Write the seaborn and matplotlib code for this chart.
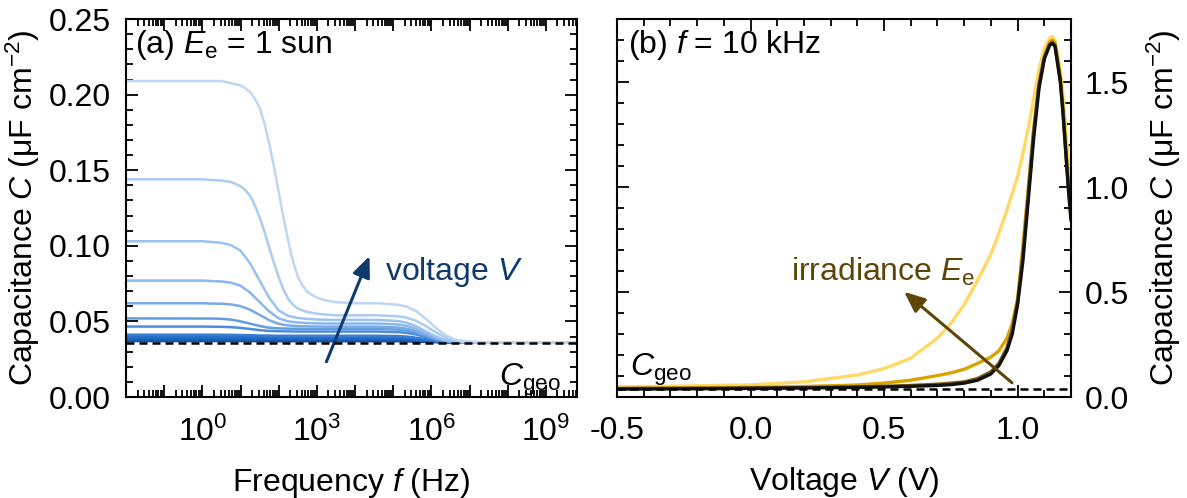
import pandas as pd
import seaborn as sns
import matplotlib.pyplot as plt
from matplotlib.ticker import MultipleLocator, LogLocator, FuncFormatter, NullFormatter
import numpy as np

# (a) capacitance vs frequency at 1 sun, one curve per voltage (light = high V)
log_f = [-2.0, 0.0, 0.25, 0.5, 0.75, 1.0, 1.25, 1.5, 1.75, 2.0, 2.25, 2.5, 2.75, 3.0,
         3.25, 3.5, 4.0, 4.6, 5.1, 5.35, 5.6, 5.85, 6.1, 6.35, 6.6, 6.85, 7.1, 7.6, 9.82]
# the two top curves were read on a finer frequency grid
log_f_fine = [-2.0, 0.0, 0.5, 0.75, 1.0, 1.125, 1.25, 1.375, 1.5, 1.625, 1.75, 1.875, 2.0, 2.125,
              2.25, 2.375, 2.5, 2.625, 2.75, 3.0, 3.25, 3.5, 4.0, 4.6, 5.1, 5.35, 5.6, 5.85, 6.1,
              6.35, 6.6, 6.85, 7.1, 7.6, 9.82]

c_v1 = [0.209, 0.209, 0.209, 0.2075, 0.2061, 0.2042, 0.2017, 0.1972, 0.1914, 0.1811, 0.1678, 0.1524,
        0.1355, 0.1186, 0.1032, 0.0899, 0.0796, 0.0738, 0.0694, 0.0657, 0.0638, 0.0627, 0.062, 0.062,
        0.0611, 0.0598, 0.0568, 0.0519, 0.0461, 0.0412, 0.0382, 0.0370, 0.0365, 0.0361, 0.036]
c_v2 = [0.144, 0.144, 0.1431, 0.1422, 0.1395, 0.1368, 0.1332, 0.1269, 0.1188, 0.1094, 0.099, 0.0887,
        0.0792, 0.0711, 0.0648, 0.0612, 0.0585, 0.0573, 0.0563, 0.0551, 0.0545, 0.054, 0.054, 0.054,
        0.0534, 0.0525, 0.0504, 0.047, 0.043, 0.0396, 0.0375, 0.0367, 0.0363, 0.0361, 0.036]
c_v3 = [0.103, 0.103, 0.1025, 0.102, 0.1004, 0.0968, 0.0884, 0.077, 0.0656, 0.0572, 0.0536, 0.0523,
        0.0516, 0.0513, 0.051, 0.051, 0.051, 0.051, 0.0503, 0.0492, 0.0468, 0.0435, 0.0402, 0.0378,
        0.0368, 0.0364, 0.0362, 0.036, 0.036]
c_v4 = [0.077, 0.077, 0.0767, 0.0764, 0.0756, 0.0736, 0.069, 0.0628, 0.0566, 0.052, 0.05, 0.0493,
        0.0489, 0.0487, 0.0486, 0.0486, 0.0486, 0.0486, 0.048, 0.0471, 0.0451, 0.0423, 0.0395, 0.0375,
        0.0366, 0.0363, 0.0362, 0.036, 0.036]
c_v5 = [0.062, 0.062, 0.0618, 0.0617, 0.0612, 0.0601, 0.0577, 0.0543, 0.0508, 0.0484, 0.0473, 0.0469,
        0.0467, 0.0466, 0.0465, 0.0465, 0.0465, 0.0465, 0.046, 0.0452, 0.0436, 0.0413, 0.0389, 0.0373,
        0.0365, 0.0363, 0.0361, 0.036, 0.036]
c_v6 = [0.052, 0.0519, 0.0519, 0.0517, 0.0512, 0.05, 0.0485, 0.047, 0.0458, 0.0454, 0.0452, 0.0451,
        0.045, 0.045, 0.045, 0.045, 0.045, 0.045, 0.0446, 0.0439, 0.0425, 0.0405, 0.0385, 0.0371,
        0.0365, 0.0362, 0.0361, 0.036, 0.036]
c_v7 = [0.0466, 0.0466, 0.0465, 0.0464, 0.0462, 0.0457, 0.045, 0.0442, 0.0437, 0.0435, 0.0434, 0.0433,
        0.0433, 0.0433, 0.0433, 0.0433, 0.0433, 0.0433, 0.0429, 0.0424, 0.0413, 0.0397, 0.038, 0.0369,
        0.0364, 0.0362, 0.0361, 0.036, 0.036]
c_v8 = [0.0412, 0.0412, 0.0412, 0.0412, 0.0411, 0.041, 0.0409, 0.0407, 0.0406, 0.0405, 0.0405, 0.0405,
        0.0405, 0.0405, 0.0405, 0.0405, 0.0405, 0.0405, 0.0403, 0.04, 0.0392, 0.0383, 0.0373, 0.0365,
        0.0362, 0.0361, 0.036, 0.036, 0.036]
c_v9 = [0.0398, 0.0398, 0.0398, 0.0398, 0.0398, 0.0397, 0.0397, 0.0396, 0.0395, 0.0395, 0.0395, 0.0395,
        0.0395, 0.0395, 0.0395, 0.0395, 0.0395, 0.0395, 0.0393, 0.0391, 0.0385, 0.0378, 0.037, 0.0364,
        0.0362, 0.0361, 0.036, 0.036, 0.036]
c_v10 = [0.0388, 0.0388, 0.0388, 0.0388, 0.0388, 0.0388, 0.0387, 0.0386, 0.0386, 0.0386, 0.0386, 0.0386,
         0.0386, 0.0386, 0.0386, 0.0386, 0.0386, 0.0386, 0.0385, 0.0383, 0.0379, 0.0373, 0.0367, 0.0363,
         0.0361, 0.036, 0.036, 0.036, 0.036]
c_v11 = [0.0378, 0.0378, 0.0378, 0.0378, 0.0378, 0.0378, 0.0378, 0.0377, 0.0377, 0.0377, 0.0377, 0.0377,
         0.0377, 0.0377, 0.0377, 0.0377, 0.0377, 0.0377, 0.0376, 0.0375, 0.0372, 0.0369, 0.0365, 0.0362,
         0.0361, 0.036, 0.036, 0.036, 0.036]
c_v12 = [0.037, 0.037, 0.037, 0.037, 0.037, 0.037, 0.037, 0.0369, 0.0369, 0.0369, 0.0369, 0.0369,
         0.0369, 0.0369, 0.0369, 0.0369, 0.0369, 0.0369, 0.0369, 0.0368, 0.0366, 0.0365, 0.0363, 0.0361,
         0.036, 0.036, 0.036, 0.036, 0.036]

# (b) capacitance vs voltage at 10 kHz, one curve per irradiance
volt = [-0.5, -0.25, 0.0, 0.2, 0.4, 0.5, 0.6, 0.7, 0.75, 0.8, 0.85, 0.9, 0.93, 0.96, 0.98, 1.0,
        1.02, 1.04, 1.06, 1.08, 1.1, 1.12, 1.13, 1.14, 1.16, 1.17, 1.18, 1.19, 1.2]
c_e1 = [0.048, 0.052, 0.058, 0.072, 0.105, 0.135, 0.185, 0.28, 0.35, 0.44, 0.555, 0.68, 0.78, 0.89, 0.97,
        1.05, 1.16, 1.28, 1.42, 1.56, 1.66, 1.71, 1.716, 1.70, 1.56, 1.44, 1.28, 1.12, 0.95]
c_e2 = [0.042, 0.044, 0.046, 0.050, 0.057, 0.066, 0.080, 0.102, 0.115, 0.132, 0.16, 0.19, 0.22, 0.28, 0.35,
        0.47, 0.72, 1.0, 1.28, 1.50, 1.625, 1.69, 1.70, 1.685, 1.52, 1.37, 1.19, 1.01, 0.86]
c_e3 = [0.040, 0.041, 0.043, 0.045, 0.048, 0.051, 0.055, 0.061, 0.066, 0.072, 0.088, 0.12, 0.16, 0.235, 0.32,
        0.455, 0.68, 0.97, 1.26, 1.485, 1.615, 1.68, 1.69, 1.675, 1.51, 1.36, 1.18, 1.00, 0.85]
c_e4 = [0.038, 0.039, 0.041, 0.043, 0.046, 0.048, 0.051, 0.055, 0.059, 0.066, 0.08, 0.11, 0.15, 0.22, 0.30,
        0.44, 0.65, 0.94, 1.23, 1.47, 1.61, 1.675, 1.684, 1.67, 1.50, 1.35, 1.17, 0.99, 0.84]

c_geo = 0.036

sns.set_theme(style='ticks')
plt.rcParams.update({
    'font.family': ['Liberation Sans', 'DejaVu Sans'],
    'mathtext.fontset': 'custom',
    'mathtext.rm': 'Liberation Sans',
    'mathtext.it': 'Liberation Sans:italic',
    'mathtext.bf': 'Liberation Sans:bold',
    'axes.unicode_minus': False,
    'font.size': 23,
    'axes.labelsize': 23,
    'text.color': 'black',
    'axes.labelcolor': 'black',
    'axes.linewidth': 1.5,
    'axes.edgecolor': 'black',
})

navy = '#0f3a6e'
olive = '#5c4708'

# long tables for seaborn (darkest drawn first, lightest on top)
volt_curves = [(log_f, c_v12), (log_f, c_v11), (log_f, c_v10), (log_f, c_v9), (log_f, c_v8),
               (log_f, c_v7), (log_f, c_v6), (log_f, c_v5), (log_f, c_v4), (log_f, c_v3),
               (log_f_fine, c_v2), (log_f_fine, c_v1)]
df_a = pd.concat([pd.DataFrame({'logf': lf, 'C': c, 'curve': i})
                  for i, (lf, c) in enumerate(volt_curves)])
df_a['f'] = 10 ** df_a['logf']
blues = sns.blend_palette(['#0f4ea6', '#2f78d2', '#7fb0ea', '#bcd7f6'], len(volt_curves))

irr_curves = [c_e1, c_e2, c_e3, c_e4]
df_b = pd.concat([pd.DataFrame({'V': volt, 'C': c, 'curve': i}) for i, c in enumerate(irr_curves)])
golds = ['#ffd966', '#d9a300', '#7a5c00', '#111111']

fig = plt.figure(figsize=(11.87, 4.98), dpi=100)
ax1 = fig.add_axes([0.1062, 0.2028, 0.380, 0.759])
ax2 = fig.add_axes([0.5198, 0.2028, 0.3825, 0.759])

# ---- panel (a)
ax1.set_xscale('log')
sns.lineplot(data=df_a, x='f', y='C', hue='curve', palette=blues, legend=False,
             linewidth=1.8, estimator=None, sort=False, ax=ax1)
ax1.axhline(c_geo, color='black', lw=1.8, ls=(0, (3.2, 2.0)), zorder=5)
ax1.set_xlim(1e-2, 10 ** 9.82)
ax1.set_ylim(0, 0.25)
ax1.xaxis.set_major_locator(LogLocator(base=10, numticks=30))
ax1.xaxis.set_minor_locator(LogLocator(base=10, subs=np.arange(2, 10), numticks=30))
ax1.xaxis.set_minor_formatter(NullFormatter())
ax1.xaxis.set_major_formatter(FuncFormatter(
    lambda v, p: '$10^{%d}$' % round(np.log10(v)) if round(np.log10(v)) % 3 == 0 else ''))
ax1.yaxis.set_major_locator(MultipleLocator(0.05))
ax1.yaxis.set_minor_locator(MultipleLocator(0.01))
ax1.yaxis.set_major_formatter(FuncFormatter(lambda v, p: '%.2f' % v))
ax1.set_xlabel('Frequency $f$ (Hz)', labelpad=13)
ax1.set_ylabel('Capacitance $C$ (μF cm$^{-2}$)', labelpad=5)
ax1.text(0.02, 0.975, r'(a) $E_\mathrm{e}$ = 1 sun', transform=ax1.transAxes, ha='left', va='top')
ax1.annotate('', xy=(10 ** 4.38, 0.0932), xytext=(10 ** 3.25, 0.0233),
             arrowprops=dict(arrowstyle='-|>,head_length=0.7,head_width=0.3', color=navy,
                             lw=2.2, mutation_scale=18, shrinkA=0, shrinkB=0))
ax1.text(10 ** 4.79, 0.0827, 'voltage $V$', color=navy, ha='left', va='center')
ax1.text(10 ** 8.59, 0.0112, r'$C_\mathrm{geo}$', ha='center', va='center')

# ---- panel (b)
sns.lineplot(data=df_b, x='V', y='C', hue='curve', palette=golds, legend=False,
             linewidth=2.4, estimator=None, sort=False, ax=ax2)
ax2.axhline(c_geo, color='black', lw=1.8, ls=(0, (3.2, 2.0)), zorder=5)
ax2.set_xlim(-0.5, 1.2)
ax2.set_ylim(0, 1.8)
ax2.xaxis.set_major_locator(MultipleLocator(0.5))
ax2.xaxis.set_minor_locator(MultipleLocator(0.1))
ax2.xaxis.set_major_formatter(FuncFormatter(lambda v, p: '%.1f' % v))
ax2.yaxis.set_major_locator(MultipleLocator(0.5))
ax2.yaxis.set_minor_locator(MultipleLocator(0.1))
ax2.yaxis.set_major_formatter(FuncFormatter(lambda v, p: '%.1f' % v))
ax2.yaxis.set_ticks_position('both')
ax2.yaxis.set_label_position('right')
ax2.set_xlabel('Voltage $V$ (V)', labelpad=13)
ax2.set_ylabel('Capacitance $C$ (μF cm$^{-2}$)', labelpad=11)
ax2.text(0.024, 0.975, '(b) $f$ = 10 kHz', transform=ax2.transAxes, ha='left', va='top')
ax2.annotate('', xy=(0.575, 0.501), xytext=(0.979, 0.068),
             arrowprops=dict(arrowstyle='-|>,head_length=0.7,head_width=0.3', color=olive,
                             lw=2.2, mutation_scale=18, shrinkA=0, shrinkB=0))
ax2.text(0.496, 0.595, r'irradiance $E_\mathrm{e}$', color=olive, ha='center', va='center')
ax2.text(-0.336, 0.129, r'$C_\mathrm{geo}$', ha='center', va='center')

for ax in (ax1, ax2):
    ax.tick_params(which='both', direction='in', top=True, right=True, width=1.3,
                   labelsize=23, colors='black')
    ax.tick_params(which='major', length=8.5)
    ax.tick_params(which='minor', length=5)
    ax.tick_params(axis='x', pad=14)
    for s in ax.spines.values():
        s.set_visible(True)
        s.set_linewidth(1.5)
ax1.tick_params(axis='y', pad=11)
ax2.tick_params(axis='y', labelleft=False, labelright=True, pad=10)

fig.savefig('out.png', dpi=100)
